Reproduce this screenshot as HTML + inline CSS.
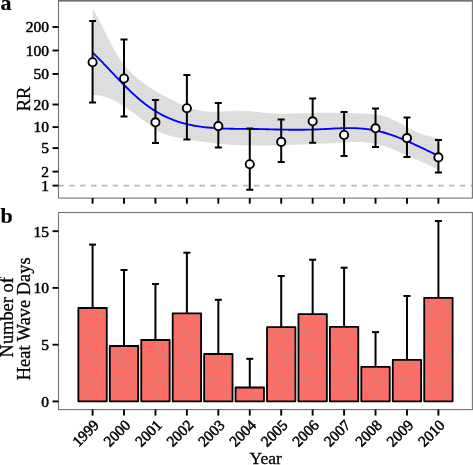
<!DOCTYPE html><html><head><meta charset="utf-8"><style>html,body{margin:0;padding:0;background:#fff;}svg{display:block;}text{font-family:"Liberation Serif",serif;fill:#000;stroke:#000;stroke-width:0.5px;}svg{will-change:transform;}</style></head><body>
<svg width="473" height="465" viewBox="0 0 473 465">
<text x="0.6" y="10.3" font-size="22" font-weight="bold" style="stroke-width:0.15px">a</text>
<text x="0.5" y="222.7" font-size="22" font-weight="bold" style="stroke-width:0.15px">b</text>
<defs><pattern id="bp" patternUnits="userSpaceOnUse" x="0" y="0" width="24" height="24"><rect width="24" height="24" fill="#fc6d66"/><rect x="10" y="4" width="1" height="1" fill="#96a0a3"/><rect x="12" y="20" width="1" height="1" fill="#96a0a3"/><rect x="1" y="2" width="1" height="1" fill="#96a0a3"/><rect x="17" y="3" width="1" height="1" fill="#96a0a3"/><rect x="11" y="18" width="1" height="1" fill="#96a0a3"/><rect x="1" y="16" width="1" height="1" fill="#96a0a3"/><rect x="6" y="1" width="1" height="1" fill="#96a0a3"/><rect x="2" y="13" width="1" height="1" fill="#96a0a3"/><rect x="13" y="2" width="1" height="1" fill="#96a0a3"/><rect x="17" y="13" width="1" height="1" fill="#96a0a3"/><rect x="3" y="7" width="1" height="1" fill="#96a0a3"/><rect x="20" y="20" width="1" height="1" fill="#96a0a3"/><rect x="18" y="1" width="1" height="1" fill="#96a0a3"/><rect x="18" y="18" width="1" height="1" fill="#96a0a3"/><rect x="9" y="13" width="1" height="1" fill="#96a0a3"/><rect x="4" y="17" width="1" height="1" fill="#96a0a3"/><rect x="9" y="17" width="1" height="1" fill="#96a0a3"/><rect x="21" y="5" width="1" height="1" fill="#96a0a3"/><rect x="6" y="11" width="1" height="1" fill="#96a0a3"/><rect x="22" y="2" width="1" height="1" fill="#96a0a3"/><rect x="19" y="6" width="1" height="1" fill="#96a0a3"/><rect x="15" y="21" width="1" height="1" fill="#96a0a3"/><rect x="11" y="9" width="1" height="1" fill="#96a0a3"/><rect x="7" y="5" width="1" height="1" fill="#96a0a3"/><rect x="22" y="7" width="1" height="1" fill="#96a0a3"/><rect x="2" y="18" width="1" height="1" fill="#96a0a3"/><rect x="15" y="10" width="1" height="1" fill="#96a0a3"/><rect x="23" y="14" width="1" height="1" fill="#96a0a3"/><rect x="22" y="11" width="1" height="1" fill="#96a0a3"/><rect x="19" y="15" width="1" height="1" fill="#96a0a3"/><rect x="8" y="15" width="1" height="1" fill="#96a0a3"/><rect x="22" y="21" width="1" height="1" fill="#96a0a3"/><rect x="9" y="20" width="1" height="1" fill="#96a0a3"/><rect x="18" y="21" width="1" height="1" fill="#96a0a3"/><rect x="15" y="1" width="1" height="1" fill="#96a0a3"/><rect x="4" y="23" width="1" height="1" fill="#96a0a3"/><rect x="12" y="15" width="1" height="1" fill="#96a0a3"/><rect x="2" y="5" width="1" height="1" fill="#96a0a3"/><rect x="14" y="12" width="1" height="1" fill="#96a0a3"/><rect x="17" y="8" width="1" height="1" fill="#96a0a3"/><rect x="12" y="7" width="1" height="1" fill="#96a0a3"/><rect x="4" y="2" width="1" height="1" fill="#96a0a3"/><rect x="5" y="4" width="1" height="1" fill="#96a0a3"/><rect x="7" y="21" width="1" height="1" fill="#96a0a3"/></pattern><pattern id="rp" patternUnits="userSpaceOnUse" x="0" y="0" width="4" height="4"><rect width="4" height="4" fill="#e0e0e0"/><rect x="0" y="0" width="1" height="1" fill="#d4d4d4"/><rect x="2" y="0" width="1" height="1" fill="#d4d4d4"/><rect x="1" y="2" width="1" height="1" fill="#d4d4d4"/><rect x="3" y="2" width="1" height="1" fill="#d4d4d4"/></pattern><clipPath id="ca"><rect x="58.50" y="0.75" width="413.90" height="197.35"/></clipPath></defs>
<g clip-path="url(#ca)">
<path d="M92.60,8.30 L94.77,12.09 L96.95,16.08 L99.12,20.23 L101.30,24.49 L103.47,28.83 L105.65,33.20 L107.82,37.55 L110.00,41.83 L112.17,46.00 L114.35,49.99 L116.52,53.77 L118.70,57.27 L120.87,60.48 L123.05,63.43 L125.22,66.15 L127.40,68.66 L129.57,70.98 L131.75,73.15 L133.92,75.18 L136.10,77.10 L138.27,78.93 L140.45,80.66 L142.62,82.32 L144.80,83.91 L146.97,85.45 L149.15,86.92 L151.32,88.34 L153.50,89.71 L155.67,91.04 L157.85,92.32 L160.02,93.56 L162.20,94.76 L164.37,95.93 L166.55,97.07 L168.72,98.18 L170.90,99.27 L173.07,100.34 L175.25,101.39 L177.42,102.42 L179.60,103.44 L181.77,104.43 L183.95,105.39 L186.12,106.31 L188.30,107.17 L190.47,107.99 L192.65,108.73 L194.82,109.41 L197.00,110.00 L199.17,110.51 L201.35,110.92 L203.52,111.25 L205.70,111.48 L207.87,111.65 L210.04,111.74 L212.22,111.78 L214.39,111.77 L216.57,111.73 L218.74,111.65 L220.92,111.54 L223.09,111.43 L225.27,111.29 L227.44,111.16 L229.62,111.03 L231.79,110.91 L233.97,110.80 L236.14,110.72 L238.32,110.67 L240.49,110.65 L242.67,110.68 L244.84,110.76 L247.02,110.89 L249.19,111.06 L251.37,111.27 L253.54,111.50 L255.72,111.75 L257.89,112.01 L260.07,112.28 L262.24,112.53 L264.42,112.77 L266.59,112.99 L268.77,113.18 L270.94,113.33 L273.12,113.45 L275.29,113.54 L277.47,113.60 L279.64,113.63 L281.82,113.64 L283.99,113.64 L286.17,113.61 L288.34,113.57 L290.52,113.52 L292.69,113.47 L294.87,113.40 L297.04,113.33 L299.22,113.26 L301.39,113.19 L303.57,113.13 L305.74,113.07 L307.92,113.02 L310.09,112.98 L312.27,112.94 L314.44,112.91 L316.62,112.88 L318.79,112.86 L320.97,112.85 L323.14,112.84 L325.31,112.83 L327.49,112.83 L329.66,112.83 L331.84,112.83 L334.01,112.84 L336.19,112.85 L338.36,112.87 L340.54,112.89 L342.71,112.92 L344.89,112.96 L347.06,113.00 L349.24,113.04 L351.41,113.09 L353.59,113.15 L355.76,113.22 L357.94,113.29 L360.11,113.37 L362.29,113.46 L364.46,113.56 L366.64,113.67 L368.81,113.80 L370.99,113.96 L373.16,114.16 L375.34,114.41 L377.51,114.73 L379.69,115.11 L381.86,115.57 L384.04,116.13 L386.21,116.78 L388.39,117.55 L390.56,118.42 L392.74,119.40 L394.91,120.46 L397.09,121.59 L399.26,122.77 L401.44,123.99 L403.61,125.22 L405.79,126.46 L407.96,127.68 L410.14,128.87 L412.31,130.02 L414.49,131.11 L416.66,132.11 L418.84,133.03 L421.01,133.83 L423.19,134.53 L425.36,135.14 L427.54,135.69 L429.71,136.20 L431.89,136.69 L434.06,137.18 L436.24,137.69 L438.41,138.26 L438.41,169.75 L436.23,168.70 L434.06,167.66 L431.88,166.62 L429.71,165.60 L427.53,164.58 L425.36,163.57 L423.18,162.57 L421.01,161.57 L418.83,160.58 L416.66,159.60 L414.48,158.63 L412.31,157.66 L410.13,156.70 L407.96,155.75 L405.78,154.80 L403.61,153.86 L401.43,152.93 L399.26,152.00 L397.08,151.08 L394.91,150.18 L392.73,149.30 L390.56,148.44 L388.38,147.63 L386.21,146.85 L384.03,146.12 L381.86,145.44 L379.68,144.83 L377.51,144.28 L375.33,143.79 L373.16,143.37 L370.98,143.00 L368.81,142.70 L366.63,142.45 L364.46,142.26 L362.28,142.12 L360.11,142.03 L357.93,141.99 L355.76,141.99 L353.58,142.03 L351.41,142.10 L349.23,142.19 L347.06,142.31 L344.88,142.44 L342.71,142.57 L340.53,142.71 L338.36,142.84 L336.18,142.97 L334.01,143.09 L331.83,143.21 L329.66,143.32 L327.48,143.42 L325.31,143.52 L323.13,143.62 L320.95,143.72 L318.78,143.81 L316.60,143.90 L314.43,143.98 L312.25,144.06 L310.08,144.15 L307.90,144.23 L305.73,144.31 L303.55,144.39 L301.38,144.46 L299.20,144.54 L297.03,144.62 L294.85,144.70 L292.68,144.78 L290.50,144.85 L288.33,144.92 L286.15,145.00 L283.98,145.07 L281.80,145.13 L279.63,145.19 L277.45,145.25 L275.28,145.31 L273.10,145.36 L270.93,145.40 L268.75,145.44 L266.58,145.47 L264.40,145.50 L262.23,145.52 L260.05,145.53 L257.88,145.53 L255.70,145.52 L253.53,145.51 L251.35,145.49 L249.18,145.45 L247.00,145.41 L244.83,145.35 L242.65,145.29 L240.48,145.21 L238.30,145.12 L236.13,145.02 L233.95,144.91 L231.78,144.78 L229.60,144.64 L227.43,144.48 L225.25,144.31 L223.08,144.13 L220.90,143.92 L218.73,143.71 L216.55,143.47 L214.38,143.23 L212.20,142.96 L210.03,142.69 L207.85,142.40 L205.67,142.10 L203.50,141.79 L201.32,141.46 L199.15,141.13 L196.97,140.79 L194.80,140.44 L192.62,140.08 L190.45,139.72 L188.27,139.35 L186.10,138.97 L183.92,138.59 L181.75,138.21 L179.57,137.82 L177.40,137.43 L175.22,137.01 L173.05,136.55 L170.87,136.03 L168.70,135.44 L166.52,134.75 L164.35,133.96 L162.17,133.03 L160.00,131.96 L157.82,130.73 L155.65,129.37 L153.47,127.90 L151.30,126.34 L149.12,124.74 L146.95,123.11 L144.77,121.46 L142.60,119.81 L140.42,118.16 L138.25,116.51 L136.07,114.86 L133.90,113.22 L131.72,111.60 L129.55,110.00 L127.37,108.43 L125.20,106.91 L123.02,105.45 L120.85,104.07 L118.67,102.78 L116.50,101.57 L114.32,100.45 L112.15,99.43 L109.97,98.51 L107.80,97.68 L105.62,96.96 L103.45,96.34 L101.27,95.83 L99.10,95.42 L96.92,95.13 L94.75,94.96 L92.57,94.90 Z" fill="url(#rp)" stroke="none"/>
<line x1="58.35" y1="185.65" x2="472" y2="185.65" stroke="#bababa" stroke-width="1.6" stroke-dasharray="5.6 5.25"/>
<path d="M92.57,52.46 L94.31,54.16 L96.05,55.88 L97.78,57.63 L99.52,59.39 L101.26,61.18 L103.00,62.98 L104.74,64.79 L106.47,66.61 L108.21,68.44 L109.95,70.28 L111.69,72.11 L113.42,73.95 L115.16,75.78 L116.90,77.60 L118.64,79.41 L120.38,81.21 L122.11,82.99 L123.85,84.76 L125.59,86.50 L127.33,88.23 L129.07,89.92 L130.80,91.59 L132.54,93.23 L134.28,94.83 L136.02,96.40 L137.76,97.94 L139.49,99.44 L141.23,100.89 L142.97,102.31 L144.71,103.69 L146.44,105.02 L148.18,106.30 L149.92,107.54 L151.66,108.73 L153.40,109.88 L155.13,110.97 L156.87,112.03 L158.61,113.04 L160.35,114.00 L162.09,114.93 L163.82,115.81 L165.56,116.65 L167.30,117.46 L169.04,118.23 L170.78,118.96 L172.51,119.65 L174.25,120.31 L175.99,120.93 L177.73,121.52 L179.46,122.08 L181.20,122.61 L182.94,123.11 L184.68,123.58 L186.42,124.02 L188.15,124.44 L189.89,124.82 L191.63,125.19 L193.37,125.52 L195.11,125.84 L196.84,126.13 L198.58,126.40 L200.32,126.65 L202.06,126.89 L203.79,127.10 L205.53,127.30 L207.27,127.47 L209.01,127.64 L210.75,127.79 L212.48,127.92 L214.22,128.05 L215.96,128.16 L217.70,128.26 L219.44,128.35 L221.17,128.43 L222.91,128.50 L224.65,128.57 L226.39,128.62 L228.13,128.67 L229.86,128.72 L231.60,128.75 L233.34,128.78 L235.08,128.81 L236.81,128.83 L238.55,128.85 L240.29,128.87 L242.03,128.89 L243.77,128.90 L245.50,128.91 L247.24,128.93 L248.98,128.94 L250.72,128.96 L252.46,128.97 L254.19,128.99 L255.93,129.01 L257.67,129.04 L259.41,129.07 L261.15,129.11 L262.88,129.15 L264.62,129.19 L266.36,129.23 L268.10,129.28 L269.83,129.33 L271.57,129.37 L273.31,129.42 L275.05,129.46 L276.79,129.50 L278.52,129.54 L280.26,129.57 L282.00,129.61 L283.74,129.64 L285.48,129.67 L287.21,129.69 L288.95,129.71 L290.69,129.73 L292.43,129.74 L294.17,129.75 L295.90,129.75 L297.64,129.75 L299.38,129.75 L301.12,129.74 L302.85,129.73 L304.59,129.71 L306.33,129.68 L308.07,129.65 L309.81,129.61 L311.54,129.57 L313.28,129.52 L315.02,129.46 L316.76,129.40 L318.50,129.33 L320.23,129.25 L321.97,129.17 L323.71,129.08 L325.45,128.99 L327.19,128.90 L328.92,128.80 L330.66,128.71 L332.40,128.62 L334.14,128.53 L335.87,128.45 L337.61,128.37 L339.35,128.30 L341.09,128.24 L342.83,128.18 L344.56,128.14 L346.30,128.11 L348.04,128.09 L349.78,128.09 L351.52,128.10 L353.25,128.13 L354.99,128.17 L356.73,128.24 L358.47,128.32 L360.20,128.43 L361.94,128.56 L363.68,128.72 L365.42,128.90 L367.16,129.11 L368.89,129.34 L370.63,129.61 L372.37,129.90 L374.11,130.22 L375.85,130.57 L377.58,130.95 L379.32,131.36 L381.06,131.80 L382.80,132.26 L384.54,132.74 L386.27,133.26 L388.01,133.79 L389.75,134.36 L391.49,134.94 L393.22,135.55 L394.96,136.18 L396.70,136.83 L398.44,137.50 L400.18,138.19 L401.91,138.90 L403.65,139.62 L405.39,140.36 L407.13,141.12 L408.87,141.88 L410.60,142.66 L412.34,143.45 L414.08,144.25 L415.82,145.06 L417.56,145.87 L419.29,146.69 L421.03,147.52 L422.77,148.35 L424.51,149.18 L426.24,150.01 L427.98,150.84 L429.72,151.67 L431.46,152.49 L433.20,153.31 L434.93,154.12 L436.67,154.93 L438.41,155.73" fill="none" stroke="#0000ff" stroke-width="1.85"/>
<line x1="92.57" y1="21.00" x2="92.57" y2="102.50" stroke="#000" stroke-width="2.0"/>
<line x1="89.07" y1="21.00" x2="96.07" y2="21.00" stroke="#000" stroke-width="2.0"/>
<line x1="89.07" y1="102.50" x2="96.07" y2="102.50" stroke="#000" stroke-width="2.0"/>
<circle cx="92.57" cy="62.26" r="4.1" fill="#fff" stroke="#000" stroke-width="1.9"/>
<line x1="124.01" y1="39.50" x2="124.01" y2="116.50" stroke="#000" stroke-width="2.0"/>
<line x1="120.51" y1="39.50" x2="127.51" y2="39.50" stroke="#000" stroke-width="2.0"/>
<line x1="120.51" y1="116.50" x2="127.51" y2="116.50" stroke="#000" stroke-width="2.0"/>
<circle cx="124.01" cy="78.50" r="4.1" fill="#fff" stroke="#000" stroke-width="1.9"/>
<line x1="155.45" y1="100.00" x2="155.45" y2="143.10" stroke="#000" stroke-width="2.0"/>
<line x1="151.95" y1="100.00" x2="158.95" y2="100.00" stroke="#000" stroke-width="2.0"/>
<line x1="151.95" y1="143.10" x2="158.95" y2="143.10" stroke="#000" stroke-width="2.0"/>
<circle cx="155.45" cy="122.30" r="4.1" fill="#fff" stroke="#000" stroke-width="1.9"/>
<line x1="186.89" y1="75.00" x2="186.89" y2="139.50" stroke="#000" stroke-width="2.0"/>
<line x1="183.39" y1="75.00" x2="190.39" y2="75.00" stroke="#000" stroke-width="2.0"/>
<line x1="183.39" y1="139.50" x2="190.39" y2="139.50" stroke="#000" stroke-width="2.0"/>
<circle cx="186.89" cy="108.20" r="4.1" fill="#fff" stroke="#000" stroke-width="1.9"/>
<line x1="218.33" y1="103.00" x2="218.33" y2="147.60" stroke="#000" stroke-width="2.0"/>
<line x1="214.83" y1="103.00" x2="221.83" y2="103.00" stroke="#000" stroke-width="2.0"/>
<line x1="214.83" y1="147.60" x2="221.83" y2="147.60" stroke="#000" stroke-width="2.0"/>
<circle cx="218.33" cy="126.10" r="4.1" fill="#fff" stroke="#000" stroke-width="1.9"/>
<line x1="249.77" y1="128.50" x2="249.77" y2="189.70" stroke="#000" stroke-width="2.0"/>
<line x1="246.27" y1="128.50" x2="253.27" y2="128.50" stroke="#000" stroke-width="2.0"/>
<line x1="246.27" y1="189.70" x2="253.27" y2="189.70" stroke="#000" stroke-width="2.0"/>
<circle cx="249.77" cy="164.20" r="4.1" fill="#fff" stroke="#000" stroke-width="1.9"/>
<line x1="281.21" y1="119.50" x2="281.21" y2="162.10" stroke="#000" stroke-width="2.0"/>
<line x1="277.71" y1="119.50" x2="284.71" y2="119.50" stroke="#000" stroke-width="2.0"/>
<line x1="277.71" y1="162.10" x2="284.71" y2="162.10" stroke="#000" stroke-width="2.0"/>
<circle cx="281.21" cy="141.90" r="4.1" fill="#fff" stroke="#000" stroke-width="1.9"/>
<line x1="312.65" y1="98.60" x2="312.65" y2="142.70" stroke="#000" stroke-width="2.0"/>
<line x1="309.15" y1="98.60" x2="316.15" y2="98.60" stroke="#000" stroke-width="2.0"/>
<line x1="309.15" y1="142.70" x2="316.15" y2="142.70" stroke="#000" stroke-width="2.0"/>
<circle cx="312.65" cy="121.30" r="4.1" fill="#fff" stroke="#000" stroke-width="1.9"/>
<line x1="344.09" y1="112.00" x2="344.09" y2="156.10" stroke="#000" stroke-width="2.0"/>
<line x1="340.59" y1="112.00" x2="347.59" y2="112.00" stroke="#000" stroke-width="2.0"/>
<line x1="340.59" y1="156.10" x2="347.59" y2="156.10" stroke="#000" stroke-width="2.0"/>
<circle cx="344.09" cy="135.00" r="4.1" fill="#fff" stroke="#000" stroke-width="1.9"/>
<line x1="375.53" y1="108.40" x2="375.53" y2="147.10" stroke="#000" stroke-width="2.0"/>
<line x1="372.03" y1="108.40" x2="379.03" y2="108.40" stroke="#000" stroke-width="2.0"/>
<line x1="372.03" y1="147.10" x2="379.03" y2="147.10" stroke="#000" stroke-width="2.0"/>
<circle cx="375.53" cy="128.30" r="4.1" fill="#fff" stroke="#000" stroke-width="1.9"/>
<line x1="406.97" y1="117.40" x2="406.97" y2="156.90" stroke="#000" stroke-width="2.0"/>
<line x1="403.47" y1="117.40" x2="410.47" y2="117.40" stroke="#000" stroke-width="2.0"/>
<line x1="403.47" y1="156.90" x2="410.47" y2="156.90" stroke="#000" stroke-width="2.0"/>
<circle cx="406.97" cy="138.10" r="4.1" fill="#fff" stroke="#000" stroke-width="1.9"/>
<line x1="438.41" y1="139.90" x2="438.41" y2="172.40" stroke="#000" stroke-width="2.0"/>
<line x1="434.91" y1="139.90" x2="441.91" y2="139.90" stroke="#000" stroke-width="2.0"/>
<line x1="434.91" y1="172.40" x2="441.91" y2="172.40" stroke="#000" stroke-width="2.0"/>
<circle cx="438.41" cy="157.40" r="4.1" fill="#fff" stroke="#000" stroke-width="1.9"/>
</g>
<rect x="58.50" y="0.75" width="413.90" height="197.35" fill="none" stroke="#737373" stroke-width="1.1"/>
<line x1="57.95" y1="0.75" x2="473" y2="0.75" stroke="#737373" stroke-width="1.5"/>
<line x1="52.5" y1="27.00" x2="58.4" y2="27.00" stroke="#000" stroke-width="1.9"/>
<text x="49.1" y="32.30" font-size="15.5" text-anchor="end">200</text>
<line x1="52.5" y1="50.50" x2="58.4" y2="50.50" stroke="#000" stroke-width="1.9"/>
<text x="49.1" y="55.80" font-size="15.5" text-anchor="end">100</text>
<line x1="52.5" y1="74.00" x2="58.4" y2="74.00" stroke="#000" stroke-width="1.9"/>
<text x="49.1" y="79.30" font-size="15.5" text-anchor="end">50</text>
<line x1="52.5" y1="104.50" x2="58.4" y2="104.50" stroke="#000" stroke-width="1.9"/>
<text x="49.1" y="109.80" font-size="15.5" text-anchor="end">20</text>
<line x1="52.5" y1="127.10" x2="58.4" y2="127.10" stroke="#000" stroke-width="1.9"/>
<text x="49.1" y="132.40" font-size="15.5" text-anchor="end">10</text>
<line x1="52.5" y1="148.10" x2="58.4" y2="148.10" stroke="#000" stroke-width="1.9"/>
<text x="49.1" y="153.40" font-size="15.5" text-anchor="end">5</text>
<line x1="52.5" y1="171.60" x2="58.4" y2="171.60" stroke="#000" stroke-width="1.9"/>
<text x="49.1" y="176.90" font-size="15.5" text-anchor="end">2</text>
<line x1="52.5" y1="185.60" x2="58.4" y2="185.60" stroke="#000" stroke-width="1.9"/>
<text x="49.1" y="190.90" font-size="15.5" text-anchor="end">1</text>
<line x1="92.57" y1="198" x2="92.57" y2="203.7" stroke="#000" stroke-width="1.9"/>
<line x1="124.01" y1="198" x2="124.01" y2="203.7" stroke="#000" stroke-width="1.9"/>
<line x1="155.45" y1="198" x2="155.45" y2="203.7" stroke="#000" stroke-width="1.9"/>
<line x1="186.89" y1="198" x2="186.89" y2="203.7" stroke="#000" stroke-width="1.9"/>
<line x1="218.33" y1="198" x2="218.33" y2="203.7" stroke="#000" stroke-width="1.9"/>
<line x1="249.77" y1="198" x2="249.77" y2="203.7" stroke="#000" stroke-width="1.9"/>
<line x1="281.21" y1="198" x2="281.21" y2="203.7" stroke="#000" stroke-width="1.9"/>
<line x1="312.65" y1="198" x2="312.65" y2="203.7" stroke="#000" stroke-width="1.9"/>
<line x1="344.09" y1="198" x2="344.09" y2="203.7" stroke="#000" stroke-width="1.9"/>
<line x1="375.53" y1="198" x2="375.53" y2="203.7" stroke="#000" stroke-width="1.9"/>
<line x1="406.97" y1="198" x2="406.97" y2="203.7" stroke="#000" stroke-width="1.9"/>
<line x1="438.41" y1="198" x2="438.41" y2="203.7" stroke="#000" stroke-width="1.9"/>
<text transform="translate(29.9,98.9) rotate(-90)" font-size="18.5" text-anchor="middle" style="stroke-width:0.3px">RR</text>
<rect x="58.50" y="212.50" width="413.90" height="197.10" fill="none" stroke="#737373" stroke-width="1.1"/>
<line x1="92.57" y1="308.00" x2="92.57" y2="244.60" stroke="#000" stroke-width="2.0"/>
<line x1="89.07" y1="244.60" x2="96.07" y2="244.60" stroke="#000" stroke-width="2.0"/>
<line x1="124.01" y1="346.00" x2="124.01" y2="270.00" stroke="#000" stroke-width="2.0"/>
<line x1="120.51" y1="270.00" x2="127.51" y2="270.00" stroke="#000" stroke-width="2.0"/>
<line x1="155.45" y1="340.00" x2="155.45" y2="284.00" stroke="#000" stroke-width="2.0"/>
<line x1="151.95" y1="284.00" x2="158.95" y2="284.00" stroke="#000" stroke-width="2.0"/>
<line x1="186.89" y1="313.30" x2="186.89" y2="252.70" stroke="#000" stroke-width="2.0"/>
<line x1="183.39" y1="252.70" x2="190.39" y2="252.70" stroke="#000" stroke-width="2.0"/>
<line x1="218.33" y1="354.00" x2="218.33" y2="299.80" stroke="#000" stroke-width="2.0"/>
<line x1="214.83" y1="299.80" x2="221.83" y2="299.80" stroke="#000" stroke-width="2.0"/>
<line x1="249.77" y1="387.50" x2="249.77" y2="358.80" stroke="#000" stroke-width="2.0"/>
<line x1="246.27" y1="358.80" x2="253.27" y2="358.80" stroke="#000" stroke-width="2.0"/>
<line x1="281.21" y1="327.10" x2="281.21" y2="276.00" stroke="#000" stroke-width="2.0"/>
<line x1="277.71" y1="276.00" x2="284.71" y2="276.00" stroke="#000" stroke-width="2.0"/>
<line x1="312.65" y1="314.10" x2="312.65" y2="259.70" stroke="#000" stroke-width="2.0"/>
<line x1="309.15" y1="259.70" x2="316.15" y2="259.70" stroke="#000" stroke-width="2.0"/>
<line x1="344.09" y1="326.80" x2="344.09" y2="267.70" stroke="#000" stroke-width="2.0"/>
<line x1="340.59" y1="267.70" x2="347.59" y2="267.70" stroke="#000" stroke-width="2.0"/>
<line x1="375.53" y1="366.90" x2="375.53" y2="332.10" stroke="#000" stroke-width="2.0"/>
<line x1="372.03" y1="332.10" x2="379.03" y2="332.10" stroke="#000" stroke-width="2.0"/>
<line x1="406.97" y1="359.90" x2="406.97" y2="296.00" stroke="#000" stroke-width="2.0"/>
<line x1="403.47" y1="296.00" x2="410.47" y2="296.00" stroke="#000" stroke-width="2.0"/>
<line x1="438.41" y1="297.80" x2="438.41" y2="221.00" stroke="#000" stroke-width="2.0"/>
<line x1="434.91" y1="221.00" x2="441.91" y2="221.00" stroke="#000" stroke-width="2.0"/>
<rect x="78.37" y="308.00" width="28.40" height="93.30" fill="url(#bp)" stroke="#000" stroke-width="1.8" stroke-linejoin="round"/>
<rect x="109.81" y="346.00" width="28.40" height="55.30" fill="url(#bp)" stroke="#000" stroke-width="1.8" stroke-linejoin="round"/>
<rect x="141.25" y="340.00" width="28.40" height="61.30" fill="url(#bp)" stroke="#000" stroke-width="1.8" stroke-linejoin="round"/>
<rect x="172.69" y="313.30" width="28.40" height="88.00" fill="url(#bp)" stroke="#000" stroke-width="1.8" stroke-linejoin="round"/>
<rect x="204.13" y="354.00" width="28.40" height="47.30" fill="url(#bp)" stroke="#000" stroke-width="1.8" stroke-linejoin="round"/>
<rect x="235.57" y="387.50" width="28.40" height="13.80" fill="url(#bp)" stroke="#000" stroke-width="1.8" stroke-linejoin="round"/>
<rect x="267.01" y="327.10" width="28.40" height="74.20" fill="url(#bp)" stroke="#000" stroke-width="1.8" stroke-linejoin="round"/>
<rect x="298.45" y="314.10" width="28.40" height="87.20" fill="url(#bp)" stroke="#000" stroke-width="1.8" stroke-linejoin="round"/>
<rect x="329.89" y="326.80" width="28.40" height="74.50" fill="url(#bp)" stroke="#000" stroke-width="1.8" stroke-linejoin="round"/>
<rect x="361.33" y="366.90" width="28.40" height="34.40" fill="url(#bp)" stroke="#000" stroke-width="1.8" stroke-linejoin="round"/>
<rect x="392.77" y="359.90" width="28.40" height="41.40" fill="url(#bp)" stroke="#000" stroke-width="1.8" stroke-linejoin="round"/>
<rect x="424.21" y="297.80" width="28.40" height="103.50" fill="url(#bp)" stroke="#000" stroke-width="1.8" stroke-linejoin="round"/>
<line x1="52.5" y1="231.20" x2="58.4" y2="231.20" stroke="#000" stroke-width="1.9"/>
<text x="49.1" y="236.50" font-size="15.5" text-anchor="end">15</text>
<line x1="52.5" y1="287.90" x2="58.4" y2="287.90" stroke="#000" stroke-width="1.9"/>
<text x="49.1" y="293.20" font-size="15.5" text-anchor="end">10</text>
<line x1="52.5" y1="344.70" x2="58.4" y2="344.70" stroke="#000" stroke-width="1.9"/>
<text x="49.1" y="350.00" font-size="15.5" text-anchor="end">5</text>
<line x1="52.5" y1="401.40" x2="58.4" y2="401.40" stroke="#000" stroke-width="1.9"/>
<text x="49.1" y="406.70" font-size="15.5" text-anchor="end">0</text>
<line x1="92.57" y1="409.6" x2="92.57" y2="415.6" stroke="#000" stroke-width="1.9"/>
<line x1="124.01" y1="409.6" x2="124.01" y2="415.6" stroke="#000" stroke-width="1.9"/>
<line x1="155.45" y1="409.6" x2="155.45" y2="415.6" stroke="#000" stroke-width="1.9"/>
<line x1="186.89" y1="409.6" x2="186.89" y2="415.6" stroke="#000" stroke-width="1.9"/>
<line x1="218.33" y1="409.6" x2="218.33" y2="415.6" stroke="#000" stroke-width="1.9"/>
<line x1="249.77" y1="409.6" x2="249.77" y2="415.6" stroke="#000" stroke-width="1.9"/>
<line x1="281.21" y1="409.6" x2="281.21" y2="415.6" stroke="#000" stroke-width="1.9"/>
<line x1="312.65" y1="409.6" x2="312.65" y2="415.6" stroke="#000" stroke-width="1.9"/>
<line x1="344.09" y1="409.6" x2="344.09" y2="415.6" stroke="#000" stroke-width="1.9"/>
<line x1="375.53" y1="409.6" x2="375.53" y2="415.6" stroke="#000" stroke-width="1.9"/>
<line x1="406.97" y1="409.6" x2="406.97" y2="415.6" stroke="#000" stroke-width="1.9"/>
<line x1="438.41" y1="409.6" x2="438.41" y2="415.6" stroke="#000" stroke-width="1.9"/>
<text transform="translate(92.37,418.6) rotate(-45)" font-size="15.2" text-anchor="end" dy="0.7em">1999</text>
<text transform="translate(123.81,418.6) rotate(-45)" font-size="15.2" text-anchor="end" dy="0.7em">2000</text>
<text transform="translate(155.25,418.6) rotate(-45)" font-size="15.2" text-anchor="end" dy="0.7em">2001</text>
<text transform="translate(186.69,418.6) rotate(-45)" font-size="15.2" text-anchor="end" dy="0.7em">2002</text>
<text transform="translate(218.13,418.6) rotate(-45)" font-size="15.2" text-anchor="end" dy="0.7em">2003</text>
<text transform="translate(249.57,418.6) rotate(-45)" font-size="15.2" text-anchor="end" dy="0.7em">2004</text>
<text transform="translate(281.01,418.6) rotate(-45)" font-size="15.2" text-anchor="end" dy="0.7em">2005</text>
<text transform="translate(312.45,418.6) rotate(-45)" font-size="15.2" text-anchor="end" dy="0.7em">2006</text>
<text transform="translate(343.89,418.6) rotate(-45)" font-size="15.2" text-anchor="end" dy="0.7em">2007</text>
<text transform="translate(375.33,418.6) rotate(-45)" font-size="15.2" text-anchor="end" dy="0.7em">2008</text>
<text transform="translate(406.77,418.6) rotate(-45)" font-size="15.2" text-anchor="end" dy="0.7em">2009</text>
<text transform="translate(438.21,418.6) rotate(-45)" font-size="15.2" text-anchor="end" dy="0.7em">2010</text>
<text x="265.7" y="464.4" font-size="17.5" text-anchor="middle" style="stroke-width:0.3px">Year</text>
<text transform="translate(12.9,317.3) rotate(-90)" font-size="18.4" text-anchor="middle" style="stroke-width:0.3px">Number of</text>
<text transform="translate(29.9,318.8) rotate(-90)" font-size="18.4" text-anchor="middle" style="stroke-width:0.3px">Heat Wave Days</text>
</svg></body></html>
